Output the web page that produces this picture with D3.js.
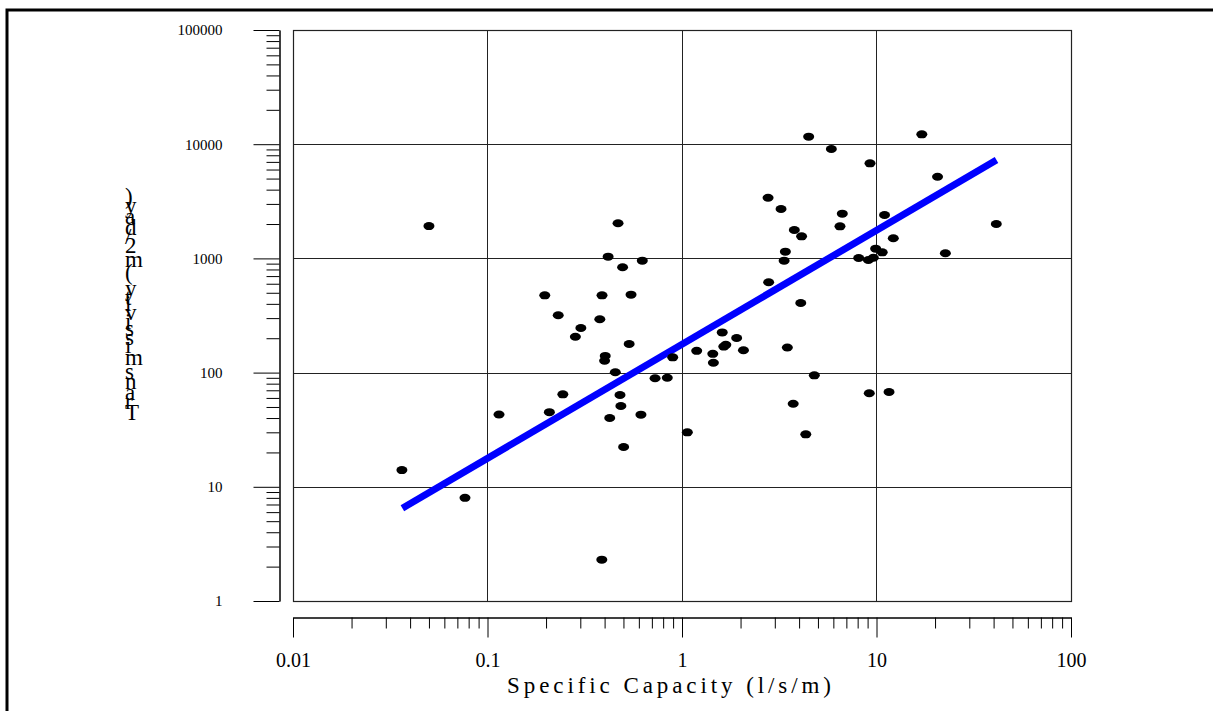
<!doctype html>
<html>
<head>
<meta charset="utf-8"/>
<title>Specific capacity vs transmissivity</title>
<script src="https://cdnjs.cloudflare.com/ajax/libs/d3/7.8.5/d3.min.js"></script>
<style>
body { margin: 0; background: #fff; }
text { font-family: "Liberation Serif", "Times New Roman", serif; fill: #000; }
</style>
</head>
<body>
<svg id="chart" width="1213" height="711"></svg>
<script>
// well data
var capacity = [0.0363, 0.0766, 0.050, 0.1146, 0.208, 0.197, 0.231, 0.244, 0.302, 0.283,
  0.378, 0.388, 0.403, 0.400, 0.387, 0.417, 0.425, 0.454, 0.469, 0.480,
  0.485, 0.495, 0.501, 0.535, 0.547, 0.615, 0.625, 0.727, 0.840, 0.896,
  1.065, 1.19, 1.44, 1.45, 1.61, 1.64, 1.68, 1.91, 2.07, 2.77,
  2.79, 3.23, 3.35, 3.40, 3.48, 3.73, 3.78, 4.08, 4.12, 4.33,
  4.48, 4.79, 5.86, 6.49, 6.67, 8.10, 9.08, 9.26, 9.18, 9.63,
  9.90, 10.7, 11.0, 11.6, 12.2, 17.1, 20.6, 22.6, 41.3];
var transmissivity = [14.0, 8.0, 1920, 43, 45, 475, 318, 64.5, 246, 206,
  293, 475, 140, 127, 2.3, 1035, 40, 100.7, 2030, 63.6,
  51, 836, 22.3, 178, 481, 42.8, 955, 89.2, 90.2, 136,
  30, 155, 146, 122, 225, 169, 175, 201, 157, 3400,
  618, 2708, 955, 1145, 166, 53.4, 1774, 407, 1561, 28.8,
  11640, 94.6, 9075, 1910, 2464, 1008, 969, 6800, 65.9, 1014,
  1216, 1130, 2399, 67.6, 1500, 12200, 5190, 1109, 2000];

// fitted power-law line, end points
var fitCapacity = [0.0365, 41.4];
var fitTransmissivity = [6.5, 7270];

var xTicks = [0.01, 0.1, 1, 10, 100];
var xTickLabels = ["0.01", "0.1", "1", "10", "100"];
var yTicks = [1, 10, 100, 1000, 10000, 100000];
var yTickLabels = ["1", "10", "100", "1000", "10000", "100000"];
var xTitle = "Specific Capacity (l/s/m)";
var yTitle = "Transmissivity (m2/day)";

var svg = d3.select("#chart");

var plotLeft = 293, plotRight = 1071, plotTop = 30, plotBottom = 601;

var x = d3.scaleLog().domain([0.01, 100]).range([plotLeft, plotRight]);
var y = d3.scaleLog().domain([1, 100000]).range([plotBottom, plotTop]);

// minor tick positions 2..9 inside each decade
function minors(majors) {
  var out = [];
  for (var i = 0; i < majors.length - 1; i++)
    for (var k = 2; k <= 9; k++) out.push(majors[i] * k);
  return out;
}

// outer border
svg.append("rect")
  .attr("x", 7).attr("y", 10)
  .attr("width", 1400).attr("height", 900)
  .attr("fill", "none").attr("stroke", "#000").attr("stroke-width", 3);

// grid
var grid = svg.append("g").attr("stroke", "#222").attr("stroke-width", 1);
grid.selectAll("line.v")
  .data(xTicks.slice(1, -1))
  .enter().append("line")
  .attr("class", "v")
  .attr("x1", d => Math.round(x(d)) + 0.5).attr("x2", d => Math.round(x(d)) + 0.5)
  .attr("y1", plotTop).attr("y2", plotBottom);
grid.selectAll("line.h")
  .data(yTicks.slice(1, -1))
  .enter().append("line")
  .attr("class", "h")
  .attr("y1", d => Math.round(y(d)) + 0.5).attr("y2", d => Math.round(y(d)) + 0.5)
  .attr("x1", plotLeft).attr("x2", plotRight);

// plot frame
svg.append("rect")
  .attr("x", plotLeft + 0.5).attr("y", plotTop + 0.5)
  .attr("width", plotRight - plotLeft).attr("height", plotBottom - plotTop)
  .attr("fill", "none").attr("stroke", "#222").attr("stroke-width", 1.2);

// y axis (detached, left of frame)
var yAxisX = 279.5;
var yMajorAxis = d3.axisLeft(y).tickValues(yTicks)
  .tickFormat((d, i) => yTickLabels[i])
  .tickSize(26).tickSizeOuter(0).tickPadding(31);
var yMinorAxis = d3.axisLeft(y).tickValues(minors(yTicks))
  .tickFormat("").tickSize(13).tickSizeOuter(0);

var gy = svg.append("g").attr("transform", "translate(" + yAxisX + ",0)");
gy.call(yMajorAxis);
gy.append("g").call(yMinorAxis);
gy.selectAll("text").attr("font-size", 15).attr("font-family", null);
gy.selectAll("path, line").attr("stroke", "#000");

// x axis (detached, below frame)
var xAxisY = 617.5;
var xMajorAxis = d3.axisBottom(x).tickValues(xTicks)
  .tickFormat((d, i) => xTickLabels[i])
  .tickSize(20).tickSizeOuter(0).tickPadding(15);
var xMinorAxis = d3.axisBottom(x).tickValues(minors(xTicks))
  .tickFormat("").tickSize(11).tickSizeOuter(0);

var gx = svg.append("g").attr("transform", "translate(0," + xAxisY + ")");
gx.call(xMajorAxis);
gx.append("g").call(xMinorAxis);
gx.selectAll("text").attr("font-size", 20).attr("font-family", null);
gx.selectAll("path, line").attr("stroke", "#000");
svg.selectAll(".domain").attr("stroke-width", 1);

// x title, letter spaced
svg.append("text")
  .attr("x", 507).attr("y", 693)
  .attr("font-size", 23)
  .attr("textLength", 324)
  .attr("lengthAdjust", "spacing")
  .text(xTitle);

// y title: upright glyphs stacked bottom to top
var yt = svg.append("g").attr("font-size", 23);
var cum = 0, baseY = 419, em = 23;
yTitle.split("").forEach(function (ch) {
  var t = yt.append("text").attr("x", 125).text(ch === " " ? "\u00a0" : ch);
  var adv = t.node().getComputedTextLength();
  t.attr("y", baseY - cum - adv / 2 + 0.33 * em);
  cum += adv;
});

// fit line
var fitLine = d3.line()
  .x(d => x(d[0]))
  .y(d => y(d[1]));
svg.append("path")
  .datum(d3.zip(fitCapacity, fitTransmissivity))
  .attr("d", fitLine)
  .attr("fill", "none")
  .attr("stroke", "#0000ff")
  .attr("stroke-width", 7);

// points
svg.append("g").selectAll("ellipse")
  .data(d3.zip(capacity, transmissivity))
  .enter().append("ellipse")
  .attr("cx", d => x(d[0]))
  .attr("cy", d => y(d[1]))
  .attr("rx", 5.5).attr("ry", 4)
  .attr("fill", "#000");
</script>
</body>
</html>
